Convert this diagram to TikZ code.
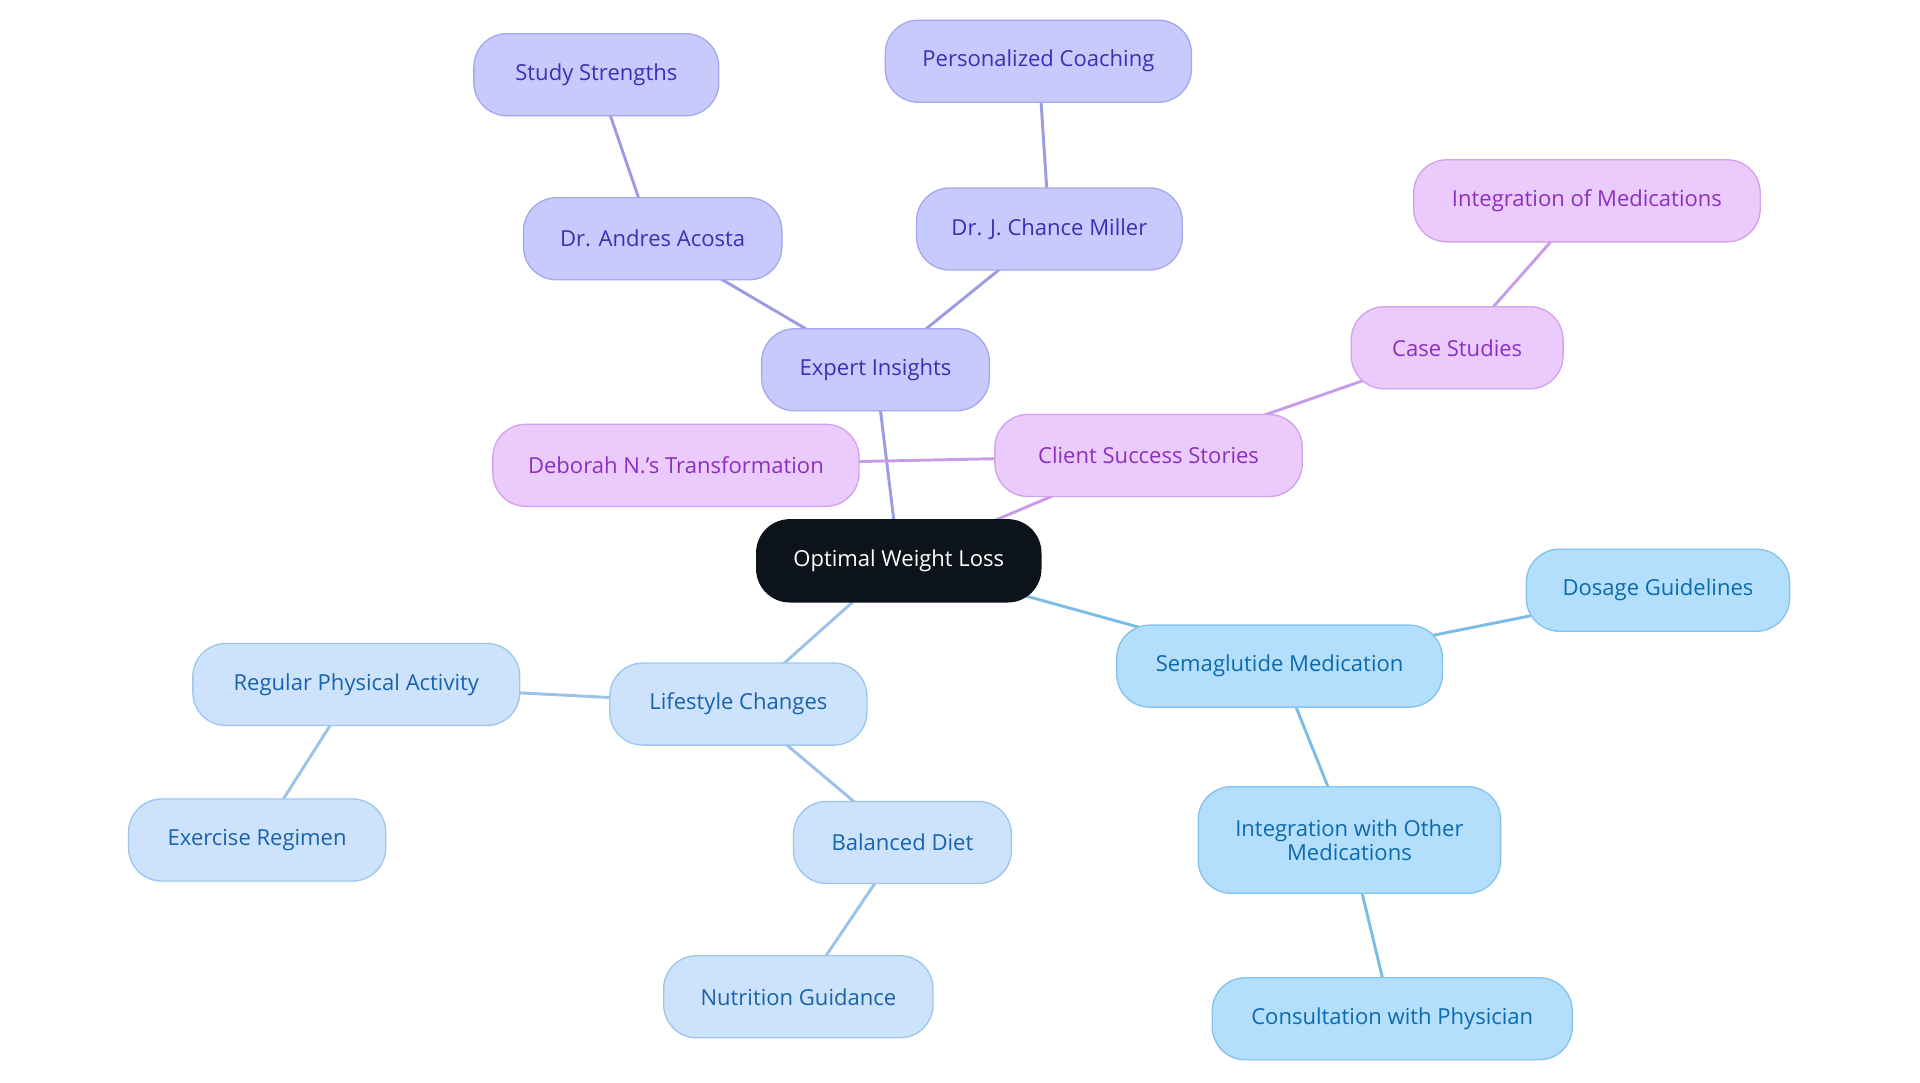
\documentclass[tikz,border=0pt]{standalone}
\usepackage{fontspec}
\setmainfont{Open Sans}
\usetikzlibrary{backgrounds}

\definecolor{lavfill}{HTML}{C8CAFD}
\definecolor{lavline}{HTML}{A5A8EE}
\definecolor{lavtext}{HTML}{3A2FB5}
\definecolor{lavedge}{HTML}{9C9DE0}
\definecolor{pinkfill}{HTML}{EBCBFC}
\definecolor{pinkline}{HTML}{D3A2EE}
\definecolor{pinktext}{HTML}{8C2FC0}
\definecolor{pinkedge}{HTML}{C79CE8}
\definecolor{palefill}{HTML}{CCE3FB}
\definecolor{paleline}{HTML}{9EC6EF}
\definecolor{paletext}{HTML}{1A62AE}
\definecolor{paleedge}{HTML}{9CC2EA}
\definecolor{skyfill}{HTML}{B3DEFC}
\definecolor{skyline}{HTML}{85C2EE}
\definecolor{skytext}{HTML}{0C6AAE}
\definecolor{skyedge}{HTML}{7CBDE6}
\definecolor{rootfill}{HTML}{0D131B}

\begin{document}
\begin{tikzpicture}[
    x = 1pt, y = -1pt,
    line join=round,
    box/.style = {rectangle, rounded corners=27pt, minimum height=67pt, inner sep=0pt,
                  line width=1.1pt, font=\fontsize{18}{20}\selectfont, align=center},
    root/.style = {box, fill=rootfill, draw=rootfill, text=white},
    lav/.style = {box, fill=lavfill, draw=lavline, text=lavtext},
    pink/.style = {box, fill=pinkfill, draw=pinkline, text=pinktext},
    pale/.style = {box, fill=palefill, draw=paleline, text=paletext},
    sky/.style = {box, fill=skyfill, draw=skyline, text=skytext},
    link/.style = {line width=2.4pt}
]

    \useasboundingbox (0,0) rectangle (1568,884);

    % o centro e os quatro ramos

    \node[root, minimum width=232pt] (owl) at (734,458) {Optimal Weight Loss};

    \node[lav, minimum width=186pt] (expert) at (715,302) {Expert Insights};
    \node[lav, minimum width=211pt] (acosta) at (533,195) {Dr. Andres Acosta};
    \node[lav, minimum width=200pt] (study) at (487,61) {Study Strengths};
    \node[lav, minimum width=217pt] (miller) at (857,187) {Dr. J. Chance Miller};
    \node[lav, minimum width=250pt] (coach) at (848,50) {Personalized Coaching};

    \node[pink, minimum width=251pt] (client) at (938,372) {Client Success Stories};
    \node[pink, minimum width=299pt] (deborah) at (552,380) {Deborah N.'s Transformation};
    \node[pink, minimum width=173pt] (cases) at (1190,284) {Case Studies};
    \node[pink, minimum width=283pt] (integmed) at (1296,164) {Integration of Medications};

    \node[sky, minimum width=266pt] (sema) at (1045,544) {Semaglutide Medication};
    \node[sky, minimum width=215pt] (dosage) at (1354,482) {Dosage Guidelines};
    \node[sky, minimum width=247pt, minimum height=87pt] (integother) at (1102,686) {Integration with Other\\Medications};
    \node[sky, minimum width=294pt] (consult) at (1137,832) {Consultation with Physician};

    \node[pale, minimum width=210pt] (life) at (603,575) {Lifestyle Changes};
    \node[pale, minimum width=267pt] (activity) at (291,559) {Regular Physical Activity};
    \node[pale, minimum width=210pt] (exercise) at (210,686) {Exercise Regimen};
    \node[pale, minimum width=178pt] (diet) at (737,688) {Balanced Diet};
    \node[pale, minimum width=220pt] (nutrition) at (652,814) {Nutrition Guidance};

    % ligacoes por baixo das caixas

    \begin{scope}[on background layer]
        \draw[link, lavedge] (owl.center) -- (expert.center);
        \draw[link, lavedge] (expert.center) -- (acosta.center);
        \draw[link, lavedge] (acosta.center) -- (study.center);
        \draw[link, lavedge] (expert.center) -- (miller.center);
        \draw[link, lavedge] (miller.center) -- (coach.center);

        \draw[link, pinkedge] (owl.center) -- (client.center);
        \draw[link, pinkedge] (client.center) -- (deborah.center);
        \draw[link, pinkedge] (client.center) -- (cases.center);
        \draw[link, pinkedge] (cases.center) -- (integmed.center);

        \draw[link, skyedge] (owl.center) -- (sema.center);
        \draw[link, skyedge] (sema.center) -- (dosage.center);
        \draw[link, skyedge] (sema.center) -- (integother.center);
        \draw[link, skyedge] (integother.center) -- (consult.center);

        \draw[link, paleedge] (owl.center) -- (life.center);
        \draw[link, paleedge] (life.center) -- (activity.center);
        \draw[link, paleedge] (activity.center) -- (exercise.center);
        \draw[link, paleedge] (life.center) -- (diet.center);
        \draw[link, paleedge] (diet.center) -- (nutrition.center);
    \end{scope}

\end{tikzpicture}
\end{document}
